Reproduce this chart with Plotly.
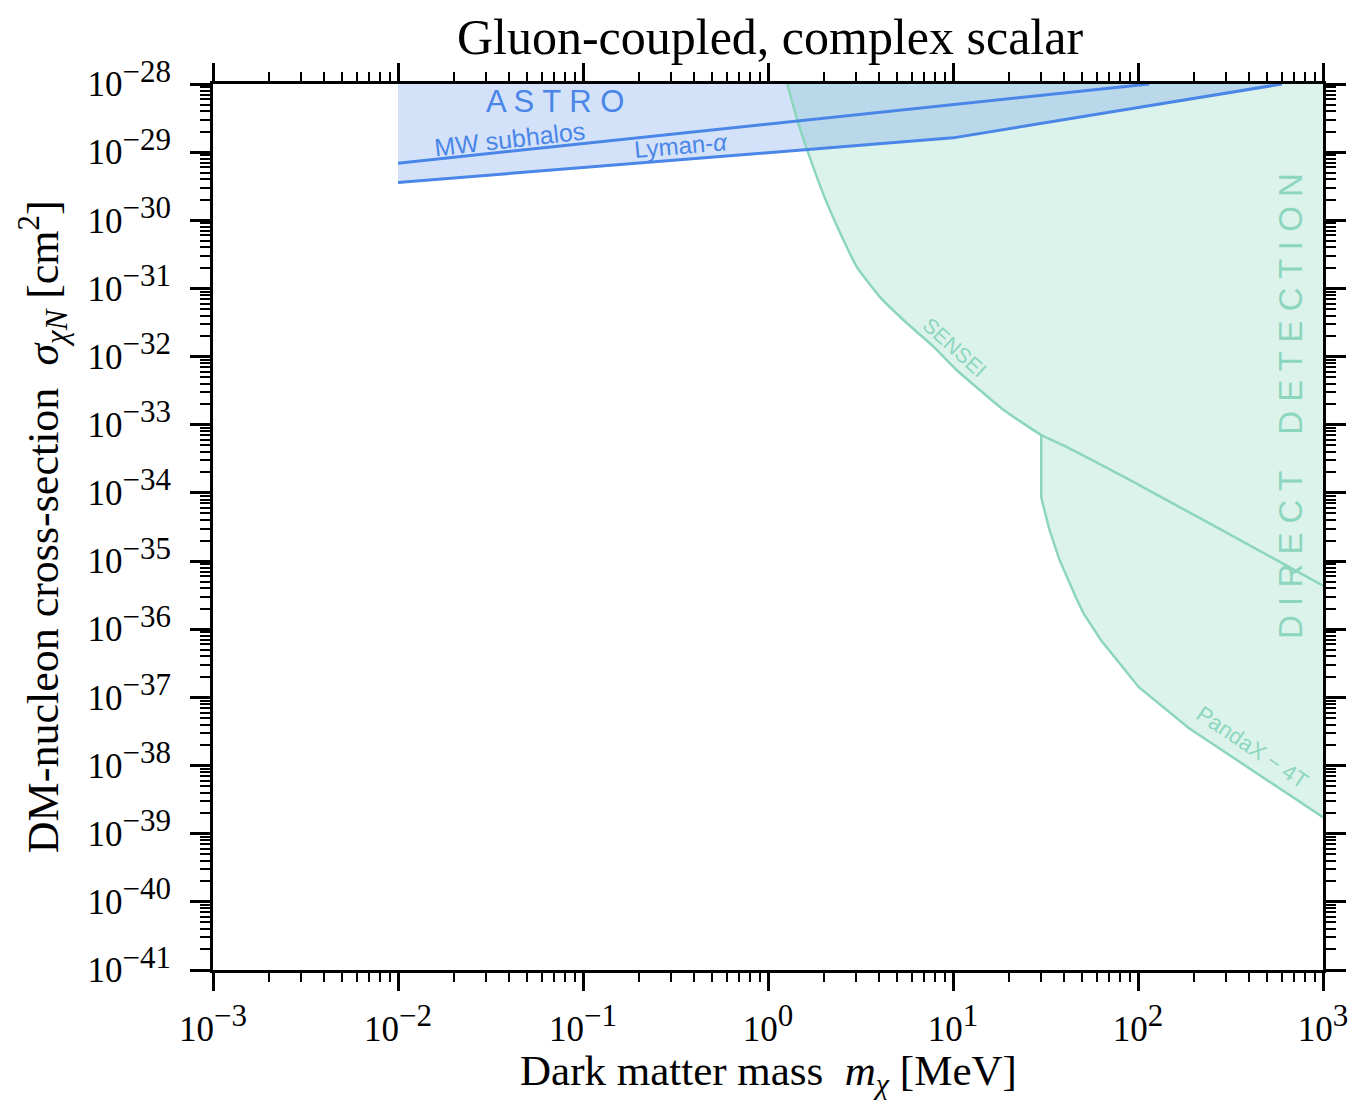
import plotly.graph_objects as go

# ---------------- data ----------------
# Astro bounds (mass in MeV, cross-section in cm^2)
mw_mass = [0.01, 0.1, 1.0, 10.0, 115.0]
mw_sigma = [6.9e-30, 1.34e-29, 2.6e-29, 5.0e-29, 1.0e-28]

lya_mass = [0.01, 0.1, 1.0, 10.0, 600.0]
lya_sigma = [3.6e-30, 6.0e-30, 9.8e-30, 1.62e-29, 1.0e-28]

# Direct detection bounds
sensei_mass = [1.27, 1.44, 1.63, 2.02, 2.46, 3.03, 4.04, 5.64, 7.89, 10.5,
               18.7, 30.0, 39.4, 86.1, 241.0, 1000.0]
sensei_sigma = [1.0e-28, 2.95e-29, 1.07e-29, 2.19e-30, 6.46e-31, 2.04e-31,
                7.41e-32, 3.09e-32, 1.38e-32, 6.31e-33, 1.66e-33, 7.08e-34,
                5.01e-34, 1.66e-34, 3.63e-35, 4.37e-36]

pandax_mass = [30.0, 30.0, 33.2, 37.6, 46.3, 50.6, 63.1, 79.1, 101.0, 188.0,
               432.0, 1000.0]
pandax_sigma = [7.08e-34, 8.51e-35, 2.88e-35, 1.05e-35, 2.88e-36, 1.74e-36,
                6.9e-37, 3.16e-37, 1.41e-37, 3.55e-38, 7.9e-39, 1.74e-39]

x_exps = [-3, -2, -1, 0, 1, 2, 3]
y_exps = list(range(-41, -27))

x_min, x_max = 1e-3, 1e3
y_min, y_max = 1e-41, 1e-28

# ---------------- styles ----------------
BLUE = "#4a86e8"
BLUE_FILL = "rgba(74,134,232,0.24)"
GREEN = "rgb(140,214,190)"
GREEN_FILL = "rgba(102,205,170,0.23)"
SERIF = "Liberation Serif"
SANS = "Liberation Sans"

fig = go.Figure()

# Direct-detection excluded region (SENSEI down to 30 MeV, then PandaX)
j = sensei_mass.index(30.0)
dd_x = sensei_mass[:j + 1] + pandax_mass[1:] + [x_max, sensei_mass[0]]
dd_y = sensei_sigma[:j + 1] + pandax_sigma[1:] + [y_max, y_max]
fig.add_trace(go.Scatter(x=dd_x, y=dd_y, mode="lines", fill="toself",
                         fillcolor=GREEN_FILL, line=dict(width=0),
                         hoverinfo="skip", showlegend=False))

# Astro excluded region (above Lyman-alpha)
astro_x = lya_mass + [lya_mass[0]]
astro_y = lya_sigma + [y_max]
fig.add_trace(go.Scatter(x=astro_x, y=astro_y, mode="lines", fill="toself",
                         fillcolor=BLUE_FILL, line=dict(width=0),
                         hoverinfo="skip", showlegend=False))

# Boundary lines
fig.add_trace(go.Scatter(x=sensei_mass, y=sensei_sigma, mode="lines",
                         line=dict(color=GREEN, width=2.5, shape="spline", smoothing=0.4),
                         showlegend=False))
fig.add_trace(go.Scatter(x=pandax_mass, y=pandax_sigma, mode="lines",
                         line=dict(color=GREEN, width=2.5), showlegend=False))
fig.add_trace(go.Scatter(x=mw_mass, y=mw_sigma, mode="lines",
                         line=dict(color=BLUE, width=3), showlegend=False))
fig.add_trace(go.Scatter(x=lya_mass, y=lya_sigma, mode="lines",
                         line=dict(color=BLUE, width=3), showlegend=False))

# ---------------- text labels ----------------
def ann(x, y, text, size, color, angle=0, font=SANS):
    fig.add_annotation(x=x, y=y, xref="x", yref="y", text=text,
                       showarrow=False, textangle=angle,
                       font=dict(family=font, size=size, color=color),
                       xanchor="center", yanchor="middle")

ann(-1.149, -28.25, "A S T R O", 31, BLUE)
ann(-1.40, -28.80, "MW subhalos", 25, BLUE, angle=-6.5)
ann(-0.47, -28.90, "Lyman-<i>α</i>", 24, BLUE, angle=-5)
ann(1.01, -31.87, "SENSEI", 21, GREEN, angle=42)
ann(2.62, -37.73, "PandaX − 4T", 22, GREEN, angle=34)
ann(2.823, -32.72, "D I R E C T    D E T E C T I O N", 33, GREEN, angle=-90)

# axis titles
fig.add_annotation(x=0.5, y=-0.117, xref="paper", yref="paper",
                   text="Dark matter mass  <i>m</i><sub><i>χ</i></sub> [MeV]",
                   showarrow=False, font=dict(family=SERIF, size=43, color="black"),
                   xanchor="center", yanchor="middle")
fig.add_annotation(x=-0.153, y=0.5, xref="paper", yref="paper",
                   text="DM-nucleon cross-section  <i>σ</i><sub><i>χN</i></sub> [cm<sup>2</sup>]",
                   showarrow=False, textangle=-90,
                   font=dict(family=SERIF, size=44, color="black"),
                   xanchor="center", yanchor="middle")

# ---------------- axes ----------------
def pow_label(e):
    return ("10<sup><span style='font-size:31px'>" + ("−" if e < 0 else "")
            + str(abs(e)) + "</span></sup>")

def minor_vals(exps):
    vals = []
    for e in exps[:-1]:
        for d in range(2, 10):
            vals.append(d * 10.0 ** e)
    return vals

axis_common = dict(type="log", showgrid=False, zeroline=False,
                   showline=True, linewidth=3, linecolor="black",
                   mirror="allticks", ticks="outside", tickcolor="black",
                   tickwidth=2.5, tickmode="array",
                   tickfont=dict(family=SERIF, size=35, color="black"))

fig.update_xaxes(**axis_common, range=[-3, 3], ticklen=18,
                 tickvals=[10.0 ** e for e in x_exps],
                 ticktext=[pow_label(e) for e in x_exps],
                 ticklabelstandoff=8,
                 minor=dict(ticks="outside", ticklen=9, tickwidth=1.5,
                            tickcolor="black", tickmode="array",
                            tickvals=minor_vals(x_exps), showgrid=False))
fig.update_yaxes(**axis_common, range=[-41, -28], ticklen=20,
                 tickvals=[10.0 ** e for e in y_exps],
                 ticktext=[pow_label(e) for e in y_exps],
                 ticklabelstandoff=12,
                 minor=dict(ticks="outside", ticklen=10, tickwidth=1.5,
                            tickcolor="black", tickmode="array",
                            tickvals=minor_vals(y_exps), showgrid=False))

fig.update_layout(
    width=1352, height=1096,
    margin=dict(l=205, r=32, t=76, b=134),
    plot_bgcolor="white", paper_bgcolor="white",
    title=dict(text="Gluon-coupled, complex scalar", x=762 / 1352, xanchor="center",
               y=1 - 28 / 1096, yanchor="middle", yref="container",
               font=dict(family=SERIF, size=50, color="black")),
    showlegend=False,
)

fig.write_html("out.html")
